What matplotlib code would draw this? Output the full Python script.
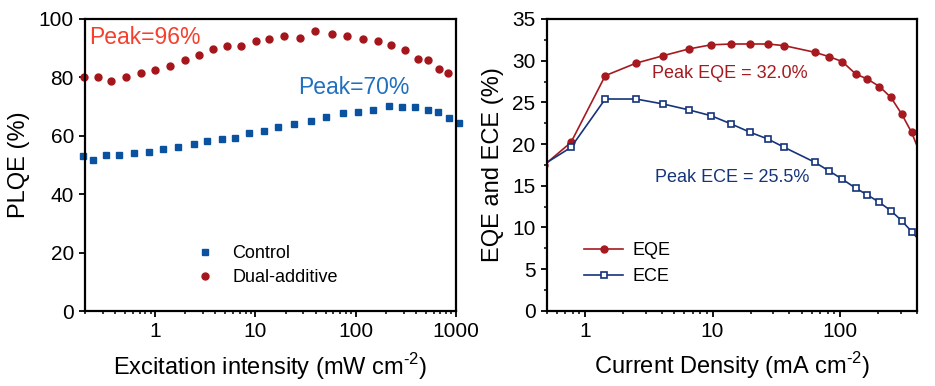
import numpy as np
import matplotlib
matplotlib.use("Agg")
import matplotlib.pyplot as plt
from matplotlib.ticker import MultipleLocator, FuncFormatter

plt.rcParams['font.family'] = ['Liberation Sans', 'DejaVu Sans']
plt.rcParams['mathtext.fontset'] = 'custom'
plt.rcParams['mathtext.rm'] = 'Liberation Sans'

# --- PLQE vs excitation intensity ---
ctrl_x = [0.189, 0.242, 0.326, 0.44, 0.621, 0.871, 1.19, 1.71, 2.42, 3.26, 4.61, 6.26,
          8.65, 12.3, 16.7, 24.2, 35.5, 50.1, 74.7, 105, 150, 215, 288, 392, 521, 661, 851, 1071]
ctrl_y = [53.2, 51.8, 53.3, 53.5, 54.2, 54.6, 55.5, 56.3, 57.1, 58.2, 58.8, 59.4,
          60.8, 61.8, 62.9, 64.0, 65.0, 66.6, 67.9, 68.2, 69.0, 70.1, 69.8, 69.8, 68.8, 68.2, 66.1, 64.4]
dual_x = [0.196, 0.267, 0.363, 0.513, 0.724, 1.0, 1.42, 1.98, 2.71, 3.80, 5.17, 7.13,
          10.1, 13.6, 19.4, 27.7, 39.2, 58.4, 81.9, 117, 167, 225, 307, 417, 525, 681, 832]
dual_y = [80.0, 80.2, 78.6, 80.1, 81.4, 82.5, 84.0, 86.1, 87.7, 89.6, 90.6, 90.6,
          92.3, 93.1, 94.2, 93.6, 96.0, 94.8, 94.2, 93.1, 92.4, 91.0, 89.5, 86.4, 85.9, 83.0, 81.6]

# --- EQE / ECE vs current density ---
j = [0.48, 0.776, 1.44, 2.51, 4.11, 6.50, 9.73, 14.05, 19.8, 27.2, 36.6, 63.7, 81.5,
     104, 133, 164, 204, 251, 305, 365, 440]
eqe = [17.5, 20.2, 28.2, 29.7, 30.6, 31.4, 31.9, 32.0, 32.0, 32.0, 31.8, 31.0, 30.5,
       29.9, 28.4, 27.8, 26.9, 25.6, 23.6, 21.4, 18.3]
ece = [17.6, 19.6, 25.4, 25.4, 24.8, 24.1, 23.4, 22.4, 21.4, 20.6, 19.6, 17.8, 16.8,
       15.8, 14.7, 13.9, 13.0, 12.0, 10.8, 9.5, 8.1]

c_red = '#a5161c'
c_blue = '#0a52a0'
c_eqe = '#a6191f'
c_ece = '#15347a'

fig = plt.figure(figsize=(9.35, 3.86), dpi=100)
ax1 = fig.add_axes([0.0909, 0.1943, 0.3968, 0.7565])
ax2 = fig.add_axes([0.5847, 0.1950, 0.3957, 0.7558])

int_fmt = FuncFormatter(lambda v, p: '%d' % v if v >= 1 else '')

for ax in (ax1, ax2):
    for s in ax.spines.values():
        s.set_linewidth(1.6)
    ax.tick_params(which='major', direction='out', length=4.5, width=1.3, labelsize=15,
                   top=False, right=False)
    ax.tick_params(which='minor', direction='out', length=2.5, width=1.1, top=False, right=False)
    ax.set_xscale('log')
    ax.xaxis.set_major_formatter(int_fmt)
    ax.xaxis.set_minor_formatter(FuncFormatter(lambda v, p: ''))

# left panel
ax1.plot(ctrl_x, ctrl_y, 's', color=c_blue, ms=4.6, mec=c_blue, clip_on=False, label='Control')
ax1.plot(dual_x, dual_y, 'o', color=c_red, ms=5.0, mec=c_red, clip_on=False, label='Dual-additive')
ax1.set_xlim(0.2, 1000)
ax1.set_ylim(0, 100)
ax1.yaxis.set_major_locator(MultipleLocator(20))
ax1.set_xlabel(r'Excitation intensity (mW cm$^{\text{-2}}$)', fontsize=17, labelpad=7)
ax1.set_ylabel('PLQE (%)', fontsize=17, labelpad=6)
ax1.text(0.221, 93.8, 'Peak=96%', color='#f4402c', fontsize=16.5, ha='left', va='center')
ax1.text(26.4, 76.7, 'Peak=70%', color='#2070c0', fontsize=16.5, ha='left', va='center')
ax1.legend(loc='upper left', bbox_to_anchor=(0.30, 0.225), frameon=False, fontsize=13,
           handlelength=1.0, handletextpad=1.0, labelspacing=0.38, numpoints=1,
           borderaxespad=0, borderpad=0)

# right panel
ax2.plot(j, eqe, '-o', color=c_eqe, lw=1.2, ms=5.0, label='EQE')
ax2.plot(j, ece, '-s', color=c_ece, lw=1.2, ms=4.6, mfc='white', mec=c_ece, mew=1.2, label='ECE')
ax2.set_xlim(0.5, 400)
ax2.set_ylim(0, 35)
ax2.yaxis.set_major_locator(MultipleLocator(5))
ax2.yaxis.set_minor_locator(MultipleLocator(2.5))
ax2.set_xlabel(r'Current Density (mA cm$^{\text{-2}}$)', fontsize=17, labelpad=7)
ax2.set_ylabel('EQE and ECE (%)', fontsize=17, labelpad=6)
ax2.text(3.37, 28.5, 'Peak EQE = 32.0%', color=c_eqe, fontsize=13, ha='left', va='center')
ax2.text(3.52, 16.0, 'Peak ECE = 25.5%', color=c_ece, fontsize=13, ha='left', va='center')
ax2.legend(loc='upper left', bbox_to_anchor=(0.10, 0.236), frameon=False, fontsize=13,
           handlelength=2.2, handletextpad=0.5, labelspacing=0.5,
           borderaxespad=0, borderpad=0)

fig.savefig('out.png', dpi=100)
